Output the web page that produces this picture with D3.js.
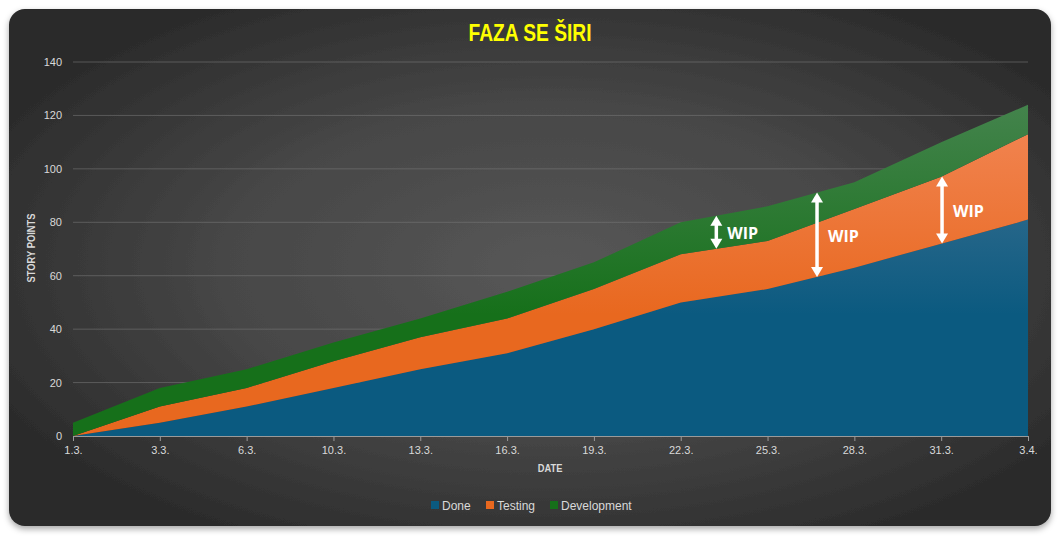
<!DOCTYPE html>
<html>
<head>
<meta charset="utf-8">
<script src="https://cdn.jsdelivr.net/npm/d3@7"></script>
<style>
  body { margin: 0; background: #ffffff; }
  svg { display: block; }
</style>
</head>
<body>
<svg id="chart" width="1061" height="540"></svg>
<script>
// chart values
var dates = ['1.3.', '3.3.', '6.3.', '10.3.', '13.3.', '16.3.', '19.3.', '22.3.', '25.3.', '28.3.', '31.3.', '3.4.'];
var done        = [0, 5, 11, 18, 25, 31, 40, 50, 55, 63, 72, 81];
var testing     = [0, 6, 7, 10, 12, 13, 15, 18, 18, 22, 25, 32];
var development = [5, 7, 7, 7, 7, 10, 10, 12, 13, 10, 13, 11];
var seriesNames = ['Done', 'Testing', 'Development'];
var yTicks = [0, 20, 40, 60, 80, 100, 120, 140];
// WIP arrows: position on the date axis (index), span from top of one layer to top of another
var wipMarks = [{at: 7.41, from: 'Testing', to: 'Development'},
                {at: 8.57, from: 'Done', to: 'Development'},
                {at: 10.01, from: 'Done', to: 'Testing'}];

var baseColor  = {Done: '#0b5a80', Testing: '#e8681f', Development: '#16701a'};
var lightColor = {Done: '#4b7796', Testing: '#f3895a', Development: '#478550'};

var svg = d3.select('#chart');
var defs = svg.append('defs');

var bg = defs.append('radialGradient').attr('id', 'bg')
  .attr('cx', '0.52').attr('cy', '0.5').attr('r', '0.62');
bg.append('stop').attr('offset', '0').attr('stop-color', '#575757');
bg.append('stop').attr('offset', '0.5').attr('stop-color', '#474747');
bg.append('stop').attr('offset', '1').attr('stop-color', '#292929');

var shadow = defs.append('filter').attr('id', 'shadow')
  .attr('x', '-5%').attr('y', '-5%').attr('width', '110%').attr('height', '115%');
shadow.append('feDropShadow').attr('dx', 0).attr('dy', 3).attr('stdDeviation', 3)
  .attr('flood-color', '#000').attr('flood-opacity', 0.35);

svg.append('rect')
  .attr('x', 9).attr('y', 9).attr('width', 1042).attr('height', 517)
  .attr('rx', 16).attr('ry', 16)
  .style('fill', 'url(#bg)')
  .attr('filter', 'url(#shadow)');

var x = d3.scalePoint().domain(dates).range([73, 1028]);
var xi = d3.scaleLinear().domain([0, dates.length - 1]).range([73, 1028]);
var y = d3.scaleLinear().domain([0, 140]).range([436, 62]);

// gradients for the area fills
seriesNames.forEach(function(s) {
  var g = defs.append('linearGradient').attr('id', 'grad' + s)
    .attr('gradientUnits', 'userSpaceOnUse')
    .attr('x1', 0).attr('x2', 0).attr('y1', y(130)).attr('y2', y(0));
  g.append('stop').attr('offset', '0').attr('stop-color', lightColor[s]);
  g.append('stop').attr('offset', '0.65').attr('stop-color', baseColor[s]);
  g.append('stop').attr('offset', '1').attr('stop-color', baseColor[s]);
});

// gridlines
svg.append('g')
  .selectAll('line')
  .data(yTicks.filter(function(d) { return d > 0; }))
  .enter()
  .append('line')
  .attr('x1', 73).attr('x2', 1028)
  .attr('y1', function(d) { return y(d); }).attr('y2', function(d) { return y(d); })
  .style('stroke', '#7a7a7a').style('stroke-width', 0.8).style('stroke-opacity', 0.7);

var table = dates.map(function(d, i) {
  return {date: d, Done: done[i], Testing: testing[i], Development: development[i]};
});
var stack = d3.stack().keys(seriesNames);
var layers = stack(table);

var area = d3.area()
  .x(function(d) { return x(d.data.date); })
  .y0(function(d) { return y(d[0]); })
  .y1(function(d) { return y(d[1]); });

svg.append('g')
  .selectAll('path')
  .data(layers)
  .enter()
  .append('path')
  .attr('d', area)
  .style('fill', function(d) { return 'url(#grad' + d.key + ')'; });

// x axis
var xAxis = svg.append('g')
  .attr('transform', 'translate(0,' + y(0) + ')')
  .call(d3.axisBottom(x).tickSize(5).tickPadding(5));
xAxis.select('.domain').style('stroke', '#9a9a9a').attr('d', 'M73,0.5H1028');
xAxis.selectAll('.tick line').style('stroke', '#9a9a9a');
xAxis.selectAll('.tick text')
  .style('fill', '#d9d9d9').style('font-family', 'Liberation Sans, Arial, sans-serif').style('font-size', '11px');

// y axis labels
var yAxis = svg.append('g')
  .attr('transform', 'translate(62,0)')
  .call(d3.axisLeft(y).tickValues(yTicks).tickSize(0).tickPadding(0));
yAxis.select('.domain').remove();
yAxis.selectAll('.tick text')
  .style('fill', '#d9d9d9').style('font-family', 'Liberation Sans, Arial, sans-serif').style('font-size', '11px');

// titles (condensed look via horizontal scaling)
svg.append('text')
  .attr('transform', 'translate(530,41) scale(0.8,1)')
  .attr('text-anchor', 'middle')
  .style('font-family', 'Liberation Sans, Arial, sans-serif')
  .style('font-weight', 'bold').style('font-size', '24px').style('fill', '#ffff00')
  .text('FAZA SE ŠIRI');

svg.append('text')
  .attr('transform', 'translate(550,472) scale(0.85,1)')
  .attr('text-anchor', 'middle')
  .style('font-family', 'Liberation Sans, Arial, sans-serif')
  .style('font-weight', 'bold').style('font-size', '11px').style('fill', '#d9d9d9')
  .text('DATE');

svg.append('text')
  .attr('transform', 'translate(35,248) rotate(-90) scale(0.85,1)')
  .attr('text-anchor', 'middle')
  .style('font-family', 'Liberation Sans, Arial, sans-serif')
  .style('font-weight', 'bold').style('font-size', '11px').style('fill', '#d9d9d9')
  .text('STORY POINTS');

// WIP arrows
function topOf(key, at) {
  var layer = layers.filter(function(l) { return l.key === key; })[0];
  var i0 = Math.floor(at), i1 = Math.min(i0 + 1, dates.length - 1), t = at - i0;
  return layer[i0][1] + (layer[i1][1] - layer[i0][1]) * t;
}

var wip = svg.append('g')
  .selectAll('g')
  .data(wipMarks)
  .enter()
  .append('g');

wip.each(function(d) {
  var g = d3.select(this);
  var ax = xi(d.at);
  var yb = y(topOf(d.from, d.at));
  var yt = y(topOf(d.to, d.at));
  var hw = 6, hh = 10;
  g.append('line')
    .attr('x1', ax).attr('x2', ax).attr('y1', yt + hh - 1).attr('y2', yb - hh + 1)
    .style('stroke', '#ffffff').style('stroke-width', 3.5);
  g.append('path')
    .attr('d', 'M' + ax + ',' + yt + 'L' + (ax + hw) + ',' + (yt + hh) + 'L' + (ax - hw) + ',' + (yt + hh) + 'Z')
    .style('fill', '#ffffff');
  g.append('path')
    .attr('d', 'M' + ax + ',' + yb + 'L' + (ax + hw) + ',' + (yb - hh) + 'L' + (ax - hw) + ',' + (yb - hh) + 'Z')
    .style('fill', '#ffffff');
  g.append('text')
    .attr('x', ax + 11).attr('y', (yt + yb) / 2 + 7)
    .style('font-family', 'Open Sans, Liberation Sans, sans-serif')
    .style('font-weight', 'bold').style('font-size', '16px').style('fill', '#ffffff')
    .text('WIP');
});

// legend
var legendX = [431, 486, 550];
var legend = svg.append('g')
  .selectAll('g')
  .data(seriesNames)
  .enter()
  .append('g')
  .attr('transform', function(d, i) { return 'translate(' + legendX[i] + ',505)'; });
legend.append('rect')
  .attr('x', 0).attr('y', -4).attr('width', 8).attr('height', 8)
  .style('fill', function(d) { return baseColor[d]; });
legend.append('text')
  .attr('x', 11).attr('y', 4.5)
  .style('font-family', 'Liberation Sans, Arial, sans-serif').style('font-size', '12px').style('fill', '#d9d9d9')
  .text(function(d) { return d; });
</script>
</body>
</html>
